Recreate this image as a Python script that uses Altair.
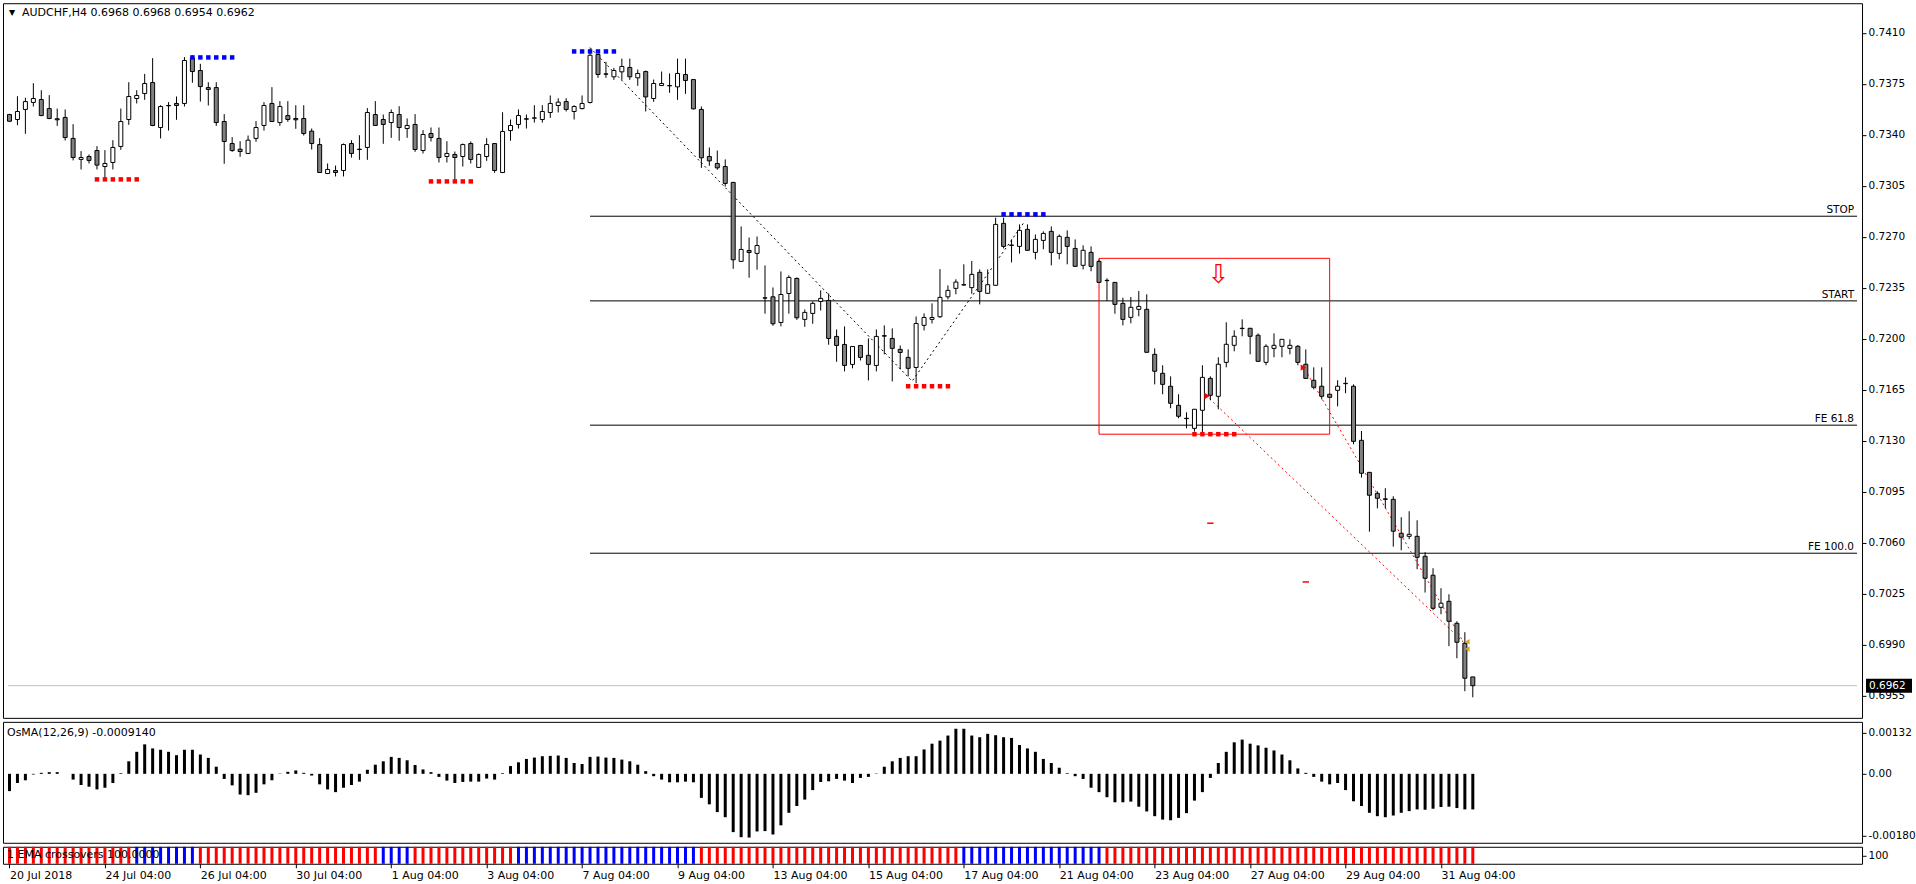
import altair as alt
import pandas as pd

# ---------------- data ----------------
symbol_text = "AUDCHF,H4  0.6968 0.6968 0.6954 0.6962"
osma_text = "OsMA(12,26,9) -0.0009140"
ema_text = "1 EMA crossovers 100.0000"

opens = [0.73540,0.73506,0.73575,0.73623,0.73643,0.73581,0.73511,0.73520,0.73376,0.73232,
         0.73252,0.73293,0.73183,0.73211,0.73321,0.73506,0.73650,0.73684,0.73760,0.73451,
         0.73602,0.73616,0.73616,0.73929,0.73842,0.73725,0.73725,0.73492,0.73341,0.73302,
         0.73273,0.73376,0.73465,0.73616,0.73485,0.73533,0.73513,0.73513,0.73426,0.73334,
         0.73135,0.73156,0.73156,0.73341,0.73302,0.73314,0.73540,0.73506,0.73485,0.73540,
         0.73444,0.73472,0.73293,0.73410,0.73376,0.73252,0.73266,0.73252,0.73341,0.73177,
         0.73252,0.73341,0.73142,0.73430,0.73472,0.73511,0.73515,0.73506,0.73554,0.73602,
         0.73629,0.73561,0.73581,0.73623,0.73952,0.73819,0.73799,0.73833,0.73863,0.73792,
         0.73835,0.73650,0.73739,0.73739,0.73730,0.73815,0.73780,0.73575,0.73252,0.73204,
         0.73183,0.73074,0.72532,0.72607,0.72587,0.72282,0.72289,0.72113,0.72312,0.72415,
         0.72134,0.72175,0.72257,0.72264,0.72017,0.71962,0.71825,0.71955,0.71887,0.71818,
         0.72022,0.72003,0.71928,0.71873,0.71804,0.72093,0.72134,0.72152,0.72289,0.72347,
         0.72372,0.72352,0.72457,0.72313,0.72368,0.72793,0.72644,0.72635,0.72752,0.72594,
         0.72676,0.72738,0.72587,0.72697,0.72621,0.72505,0.72594,0.72532,0.72402,0.72388,
         0.72244,0.72148,0.72203,0.72203,0.71894,0.71764,0.71675,0.71544,0.71455,0.71386,
         0.71510,0.71729,0.71606,0.71839,0.71956,0.72073,0.72073,0.72025,0.71839,0.71935,
         0.71949,0.71935,0.71949,0.71826,0.71716,0.71675,0.71620,0.71647,0.71695,0.71675,
         0.71304,0.71084,0.70940,0.70902,0.70899,0.70666,0.70645,0.70645,0.70508,0.70378,
         0.70158,0.70199,0.70048,0.69911,0.69680]
highs = [0.73545,0.73666,0.73655,0.73755,0.73707,0.73673,0.73581,0.73575,0.73474,0.73289,
         0.73266,0.73323,0.73296,0.73364,0.73581,0.73762,0.73707,0.73819,0.73927,0.73604,
         0.73625,0.73664,0.73934,0.73947,0.73888,0.73762,0.73762,0.73543,0.73385,0.73357,
         0.73396,0.73495,0.73625,0.73728,0.73632,0.73632,0.73604,0.73604,0.73444,0.73378,
         0.73204,0.73190,0.73341,0.73364,0.73398,0.73584,0.73632,0.73540,0.73575,0.73597,
         0.73513,0.73543,0.73433,0.73451,0.73451,0.73357,0.73286,0.73341,0.73355,0.73273,
         0.73378,0.73344,0.73556,0.73506,0.73575,0.73540,0.73604,0.73604,0.73671,0.73652,
         0.73652,0.73604,0.73671,0.73993,0.73956,0.73902,0.73860,0.73924,0.73924,0.73849,
         0.73842,0.73780,0.73835,0.73822,0.73924,0.73924,0.73780,0.73595,0.73314,0.73293,
         0.73232,0.73078,0.72772,0.72696,0.72703,0.72504,0.72353,0.72463,0.72436,0.72422,
         0.72202,0.72257,0.72333,0.72312,0.72065,0.72086,0.71951,0.71957,0.72003,0.72065,
         0.72093,0.72072,0.71955,0.71928,0.72154,0.72175,0.72244,0.72479,0.72367,0.72409,
         0.72512,0.72535,0.72477,0.72477,0.72832,0.72832,0.72683,0.72786,0.72786,0.72717,
         0.72738,0.72772,0.72717,0.72745,0.72683,0.72642,0.72635,0.72546,0.72416,0.72390,
         0.72283,0.72288,0.72329,0.72306,0.71935,0.71819,0.71743,0.71620,0.71496,0.71519,
         0.71819,0.71743,0.71874,0.72114,0.72059,0.72134,0.72075,0.72038,0.71963,0.72038,
         0.71999,0.71997,0.71958,0.71928,0.71805,0.71805,0.71624,0.71716,0.71736,0.71688,
         0.71368,0.71087,0.70954,0.70975,0.70920,0.70776,0.70817,0.70755,0.70536,0.70426,
         0.70289,0.70247,0.70062,0.69987,0.69680]
lows = [0.73490,0.73467,0.73408,0.73595,0.73529,0.73508,0.73462,0.73362,0.73225,0.73163,
        0.73204,0.73163,0.73106,0.73163,0.73298,0.73469,0.73616,0.73641,0.73460,0.73376,
        0.73430,0.73504,0.73595,0.73758,0.73629,0.73602,0.73462,0.73202,0.73284,0.73250,
        0.73270,0.73353,0.73430,0.73490,0.73462,0.73490,0.73442,0.73396,0.73300,0.73140,
        0.73133,0.73115,0.73115,0.73245,0.73229,0.73229,0.73462,0.73339,0.73380,0.73360,
        0.73380,0.73284,0.73273,0.73355,0.73211,0.73211,0.73087,0.73183,0.73204,0.73174,
        0.73222,0.73140,0.73140,0.73360,0.73444,0.73444,0.73485,0.73485,0.73517,0.73554,
        0.73561,0.73506,0.73575,0.73616,0.73792,0.73792,0.73778,0.73778,0.73778,0.73737,
        0.73561,0.73627,0.73737,0.73689,0.73641,0.73682,0.73575,0.73174,0.73188,0.73161,
        0.73046,0.72481,0.72529,0.72420,0.72475,0.72173,0.72090,0.72086,0.72173,0.72131,
        0.72083,0.72104,0.72195,0.71960,0.71843,0.71777,0.71798,0.71852,0.71715,0.71777,
        0.71894,0.71708,0.71791,0.71743,0.71695,0.72058,0.72106,0.72145,0.72271,0.72306,
        0.72365,0.72310,0.72237,0.72310,0.72365,0.72621,0.72525,0.72585,0.72606,0.72546,
        0.72615,0.72505,0.72546,0.72512,0.72496,0.72477,0.72464,0.72386,0.72260,0.72173,
        0.72093,0.72107,0.72155,0.71906,0.71688,0.71620,0.71524,0.71455,0.71386,0.71364,
        0.71345,0.71579,0.71517,0.71805,0.71915,0.72018,0.71894,0.71844,0.71819,0.71874,
        0.71874,0.71894,0.71819,0.71727,0.71654,0.71585,0.71597,0.71537,0.71627,0.71277,
        0.71048,0.70677,0.70837,0.70837,0.70574,0.70549,0.70625,0.70419,0.70259,0.70138,
        0.70110,0.69891,0.69808,0.69582,0.69540]
closes = [0.73494,0.73561,0.73629,0.73650,0.73533,0.73513,0.73504,0.73382,0.73245,0.73245,
          0.73225,0.73193,0.73204,0.73314,0.73492,0.73664,0.73671,0.73753,0.73465,0.73595,
          0.73600,0.73602,0.73911,0.73835,0.73732,0.73712,0.73485,0.73355,0.73293,0.73286,
          0.73364,0.73451,0.73602,0.73492,0.73595,0.73506,0.73504,0.73410,0.73341,0.73142,
          0.73163,0.73142,0.73334,0.73273,0.73300,0.73554,0.73465,0.73472,0.73554,0.73451,
          0.73465,0.73300,0.73403,0.73382,0.73245,0.73273,0.73245,0.73334,0.73232,0.73266,
          0.73334,0.73156,0.73424,0.73465,0.73533,0.73508,0.73517,0.73561,0.73616,0.73625,
          0.73575,0.73595,0.73616,0.73947,0.73815,0.73817,0.73842,0.73870,0.73799,0.73822,
          0.73661,0.73753,0.73753,0.73737,0.73822,0.73774,0.73579,0.73243,0.73222,0.73174,
          0.73067,0.72543,0.72614,0.72593,0.72641,0.72280,0.72104,0.72305,0.72422,0.72145,
          0.72182,0.72244,0.72278,0.72003,0.71955,0.71818,0.71948,0.71873,0.71825,0.72017,
          0.72019,0.71935,0.71907,0.71798,0.72106,0.72147,0.72147,0.72285,0.72333,0.72390,
          0.72370,0.72443,0.72326,0.72372,0.72786,0.72635,0.72642,0.72745,0.72608,0.72683,
          0.72724,0.72594,0.72704,0.72635,0.72498,0.72608,0.72498,0.72388,0.72400,0.72237,
          0.72134,0.72217,0.72223,0.71908,0.71778,0.71688,0.71558,0.71469,0.71453,0.71517,
          0.71736,0.71613,0.71826,0.71963,0.72018,0.72071,0.72018,0.71846,0.71949,0.71956,
          0.71997,0.71956,0.71839,0.71729,0.71668,0.71606,0.71599,0.71675,0.71693,0.71297,
          0.71078,0.70927,0.70906,0.70899,0.70680,0.70639,0.70659,0.70501,0.70357,0.70151,
          0.70186,0.70062,0.69918,0.69671,0.69620]

osma = [-0.00051,-0.00027,-0.00019,-0.00002,0.00003,0.00005,0.00005,0.0,-0.00017,-0.00033,
        -0.00038,-0.00046,-0.00041,-0.00027,0.00002,0.00037,0.00065,0.00087,0.00075,0.00071,
        0.00065,0.00055,0.00071,0.00071,0.00057,0.00047,0.00021,-0.00015,-0.00034,-0.00061,
        -0.00063,-0.00056,-0.00031,-0.00019,0.00001,0.00006,0.0001,0.00003,-0.00005,-0.00031,
        -0.00046,-0.00054,-0.00041,-0.00033,-0.00023,0.00012,0.00027,0.00037,0.0005,0.00047,
        0.0004,0.00026,0.00013,0.00005,-0.00009,-0.0002,-0.00027,-0.00024,-0.00023,-0.00023,
        -0.00014,-0.00017,0.00002,0.00023,0.00034,0.00044,0.00048,0.00052,0.00053,0.00054,
        0.00047,0.00032,0.00029,0.0005,0.00051,0.00048,0.00047,0.00042,0.00037,0.00027,
        0.00008,-0.00007,-0.00017,-0.00025,-0.00025,-0.00023,-0.00025,-0.00071,-0.0009,-0.00113,
        -0.00128,-0.00172,-0.00187,-0.00188,-0.0017,-0.00169,-0.00179,-0.00152,-0.00115,-0.00095,
        -0.00076,-0.00048,-0.00024,-0.00022,-0.00015,-0.0002,-0.00027,-0.00012,-0.00009,0.00001,
        0.00021,0.00037,0.00047,0.00052,0.00052,0.00072,0.00089,0.00098,0.00113,0.00133,
        0.00133,0.00113,0.00108,0.00118,0.00114,0.00108,0.00106,0.00085,0.00075,0.00065,
        0.00044,0.00032,0.00018,0.00002,-0.00007,-0.00015,-0.00041,-0.00054,-0.00069,-0.00084,
        -0.00084,-0.00082,-0.00097,-0.00111,-0.00125,-0.00135,-0.00137,-0.0013,-0.00116,-0.00079,
        -0.00054,-0.00012,0.00032,0.00065,0.00093,0.00101,0.00089,0.00084,0.00077,0.00069,
        0.00057,0.0004,0.00016,0.00003,-0.00009,-0.00023,-0.00031,-0.00027,-0.00048,-0.00081,
        -0.00095,-0.00115,-0.00125,-0.00128,-0.00123,-0.00115,-0.0011,-0.00105,-0.00106,-0.00103,
        -0.00098,-0.00097,-0.00101,-0.00105,-0.00105]

ema_blue_runs = [(16, 23), (47, 50), (64, 86), (120, 137)]
ema_colors = {"up": "#0000FF", "down": "#FF0000"}

date_label_bars = [0, 12, 24, 36, 48, 60, 72, 84, 96, 108, 120, 132, 144, 156, 168, 180]
date_labels = ["20 Jul 2018", "24 Jul 04:00", "26 Jul 04:00", "30 Jul 04:00", "1 Aug 04:00",
               "3 Aug 04:00", "7 Aug 04:00", "9 Aug 04:00", "13 Aug 04:00", "15 Aug 04:00",
               "17 Aug 04:00", "21 Aug 04:00", "23 Aug 04:00", "27 Aug 04:00", "29 Aug 04:00",
               "31 Aug 04:00"]

price_ticks = [0.7410, 0.7375, 0.7340, 0.7305, 0.7270, 0.7235, 0.7200, 0.7165,
               0.7130, 0.7095, 0.7060, 0.7025, 0.6990, 0.6955]

level_names = ["STOP", "START", "FE 61.8", "FE 100.0"]
level_prices = [0.72842, 0.72261, 0.71408, 0.70529]
level_start_bar = 73
last_price = 0.6962

fractal_starts = [23, 71, 125, 11, 53, 113, 149]
fractal_levels = [0.73932, 0.73973, 0.72855, 0.73095, 0.73081, 0.71675, 0.71346]
fractal_kind = ["high", "high", "high", "low", "low", "low", "low"]

zigzag_bars = [73, 113.5, 127.7]
zigzag_prices = [0.7400, 0.7171, 0.7281]

signal_seg = [1, 1, 2, 2]
signal_bars = [150.9, 182.8, 162.9, 182.8]
signal_prices = [0.71590, 0.69920, 0.71790, 0.69920]

arrow_bars = [150.6, 162.7]
arrow_prices = [0.71608, 0.71803]
gold_bars = [183.3, 183.3]
gold_prices = [0.69921, 0.69871]
dash_bars = [150.6, 162.6]
dash_bars2 = [151.4, 163.4]
dash_prices = [0.70735, 0.70332]

box_bars = (137.0, 166.0)
box_prices = (0.72553, 0.71346)
down_arrow = (152.0, 0.72439)

# ---------------- layout ----------------
FONT = "DejaVu Sans"
W = 1860
H_MAIN, H_OSMA, H_STRIP = 715, 121, 17
XMIN, XMAX = -0.1875, 232.3125
xscale = alt.Scale(domain=[XMIN, XMAX], nice=False, zero=False)
yscale = alt.Scale(domain=[0.69399, 0.74304], nice=False, zero=False)
oscale = alt.Scale(domain=[-0.002035, 0.001534], nice=False, zero=False)

N = len(opens)
bars = pd.DataFrame({"i": list(range(N)), "o": opens, "h": highs, "l": lows, "c": closes})

yax = alt.Axis(orient="right", values=price_ticks, format=".4f", tickSize=4, labelPadding=2,
               domain=False, grid=False, labelFont=FONT, labelFontSize=10.5, labelColor="black",
               tickColor="black", title=None, labelOverlap=False)
X = lambda f: alt.X(f, scale=xscale, axis=None)
Y = lambda f: alt.Y(f, scale=yscale, axis=yax)

lv = pd.DataFrame({"name": level_names, "p": level_prices,
                   "x0": [level_start_bar] * 4, "x1": [XMAX] * 4})
level_lines = alt.Chart(lv).mark_rule(color="black", strokeWidth=1).encode(
    x=X("x0:Q"), x2="x1:Q", y=Y("p:Q"))
level_text = alt.Chart(lv).mark_text(align="right", baseline="bottom", dx=-3, dy=-1,
                                     font=FONT, fontSize=10.5, color="black").encode(
    x=X("x1:Q"), y=Y("p:Q"), text="name:N")

lp = pd.DataFrame({"x0": [XMIN], "x1": [XMAX], "p": [last_price]})
last_line = alt.Chart(lp).mark_rule(color="#C0C0C0", strokeWidth=1).encode(
    x=X("x0:Q"), x2="x1:Q", y=Y("p:Q"))

boxdf = pd.DataFrame({"x0": [box_bars[0]], "x1": [box_bars[1]],
                      "p0": [box_prices[0]], "p1": [box_prices[1]]})
box = alt.Chart(boxdf).mark_rect(fillOpacity=0, stroke="#FF0000", strokeWidth=1).encode(
    x=X("x0:Q"), x2="x1:Q", y=Y("p0:Q"), y2="p1:Q")

dadf = pd.DataFrame({"x": [down_arrow[0]], "p": [down_arrow[1]], "t": ["\u21e9"]})
darrow = alt.Chart(dadf).mark_text(color="#FF0000", fontSize=26, font=FONT).encode(
    x=X("x:Q"), y=Y("p:Q"), text="t:N")

zz = pd.DataFrame({"x": zigzag_bars, "p": zigzag_prices, "k": [0, 1, 2]})
zigzag = alt.Chart(zz).mark_line(color="black", strokeWidth=1, strokeDash=[2, 3]).encode(
    x=X("x:Q"), y=Y("p:Q"), order="k:Q")

sg = pd.DataFrame({"x": signal_bars, "p": signal_prices, "s": signal_seg})
signals = alt.Chart(sg).mark_line(color="#FF0000", strokeWidth=1, strokeDash=[2, 3]).encode(
    x=X("x:Q"), y=Y("p:Q"), detail="s:N")

wicks = alt.Chart(bars).mark_rule(color="black", strokeWidth=1).encode(
    x=X("i:Q"), y=Y("l:Q"), y2="h:Q")
bodies = alt.Chart(bars).mark_bar(size=4, stroke="black", strokeWidth=1).encode(
    x=X("i:Q"), y=Y("o:Q"), y2="c:Q",
    fill=alt.condition("datum.c > datum.o", alt.value("white"), alt.value("#808080")))

fr_rows = []
for s, lvl, k in zip(fractal_starts, fractal_levels, fractal_kind):
    for j in range(6):
        fr_rows.append({"x": s + j, "p": lvl, "col": "#0000FF" if k == "high" else "#FF0000"})
frdf = pd.DataFrame(fr_rows)
fractals = alt.Chart(frdf).mark_square(size=20, opacity=1, filled=True).encode(
    x=X("x:Q"), y=Y("p:Q"), color=alt.Color("col:N", scale=None))

ardf = pd.DataFrame({"x": arrow_bars, "p": arrow_prices})
arrows = alt.Chart(ardf).mark_point(shape="triangle-right", filled=True, color="#FF0000",
                                    size=40, opacity=1).encode(x=X("x:Q"), y=Y("p:Q"))
gddf = pd.DataFrame({"x": gold_bars, "p": gold_prices})
golds = alt.Chart(gddf).mark_point(shape="triangle-left", filled=True, color="#DAA520",
                                   size=30, opacity=1).encode(x=X("x:Q"), y=Y("p:Q"))
dsdf = pd.DataFrame({"x0": dash_bars, "x1": dash_bars2, "p": dash_prices})
dashes = alt.Chart(dsdf).mark_rule(color="#FF0000", strokeWidth=1.5).encode(
    x=X("x0:Q"), x2="x1:Q", y=Y("p:Q"))

pbdf = pd.DataFrame({"p0": [last_price + 0.00048], "p1": [last_price - 0.00048],
                     "p": [last_price], "t": [f"{last_price:.4f}"]})
pbox = alt.Chart(pbdf).mark_rect(color="black").encode(
    x=alt.value(W + 4), x2=alt.value(W + 50), y=Y("p0:Q"), y2="p1:Q")
ptext = alt.Chart(pbdf).mark_text(color="white", align="left", font=FONT, fontSize=10.5).encode(
    x=alt.value(W + 7), y=Y("p:Q"), text="t:N")

tri = alt.Chart(pd.DataFrame({"t": ["\u25bc"]})).mark_text(
    font=FONT, fontSize=8, color="black", align="left").encode(
    x=alt.value(6), y=alt.value(10), text="t:N")
title = alt.Chart(pd.DataFrame({"t": [symbol_text]})).mark_text(
    font=FONT, fontSize=11, color="black", align="left").encode(
    x=alt.value(19), y=alt.value(10), text="t:N")

main = alt.layer(level_lines, last_line, box, zigzag, signals, wicks, bodies, fractals,
                 arrows, golds, dashes, darrow, level_text, pbox, ptext, tri, title
                 ).properties(width=W, height=H_MAIN)

# ---------------- OsMA ----------------
odf = pd.DataFrame({"i": list(range(N)), "v": osma, "z": [0.0] * N})
oax = alt.Axis(orient="right", values=[0.00122, 0.0, -0.00183],
               labelExpr="datum.value > 0.0005 ? '0.00132' : (datum.value < -0.0005 ? '-0.00180' : '0.00')",
               tickSize=4, labelPadding=2, domain=False, grid=False, labelFont=FONT,
               labelFontSize=10.5, labelColor="black", tickColor="black", title=None,
               labelOverlap=False)
obars = alt.Chart(odf).mark_bar(size=3, color="black").encode(
    x=alt.X("i:Q", scale=xscale, axis=None),
    y=alt.Y("v:Q", scale=oscale, axis=oax), y2="z:Q")
otext = alt.Chart(pd.DataFrame({"t": [osma_text]})).mark_text(
    font=FONT, fontSize=11, color="black", align="left").encode(
    x=alt.value(4), y=alt.value(11), text="t:N")
osma_panel = alt.layer(obars, otext).properties(width=W, height=H_OSMA)

# ---------------- EMA strip ----------------
cols = []
for k in range(N):
    up = any(r0 <= k <= r1 for r0, r1 in ema_blue_runs)
    cols.append(ema_colors["up"] if up else ema_colors["down"])
sdf = pd.DataFrame({"i": list(range(N)), "col": cols, "lo": [0.0] * N, "hi": [1.0] * N})
dateax = alt.Axis(values=date_label_bars,
                  labelExpr="[" + ",".join("'" + s + "'" for s in date_labels) + "][round(datum.value / 12)]",
                  labelAlign="left", labelFlush=False, labelOverlap=False, tickSize=4,
                  labelPadding=2, domain=False, grid=False, labelFont=FONT, labelFontSize=11,
                  labelColor="black", tickColor="black", title=None)
sax = alt.Axis(orient="right", values=[0.5], labelExpr="'100'", tickSize=4, labelPadding=2,
               domain=False, grid=False, labelFont=FONT, labelFontSize=10.5,
               labelColor="black", tickColor="black", title=None)
sbars = alt.Chart(sdf).mark_bar(size=3).encode(
    x=alt.X("i:Q", scale=xscale, axis=dateax),
    y=alt.Y("lo:Q", scale=alt.Scale(domain=[0, 1], nice=False), axis=sax), y2="hi:Q",
    color=alt.Color("col:N", scale=None))
stext = alt.Chart(pd.DataFrame({"t": [ema_text]})).mark_text(
    font=FONT, fontSize=11, color="black", align="left").encode(
    x=alt.value(4), y=alt.value(8.5), text="t:N")
strip = alt.layer(sbars, stext).properties(width=W, height=H_STRIP)

chart = alt.vconcat(main, osma_panel, strip, spacing=2).properties(
    padding={"left": 2, "top": 2, "right": 0, "bottom": 0}, background="white"
).configure_view(stroke="black", strokeWidth=1)

chart.save("out.html", embed_options={"renderer": "svg", "actions": False})
